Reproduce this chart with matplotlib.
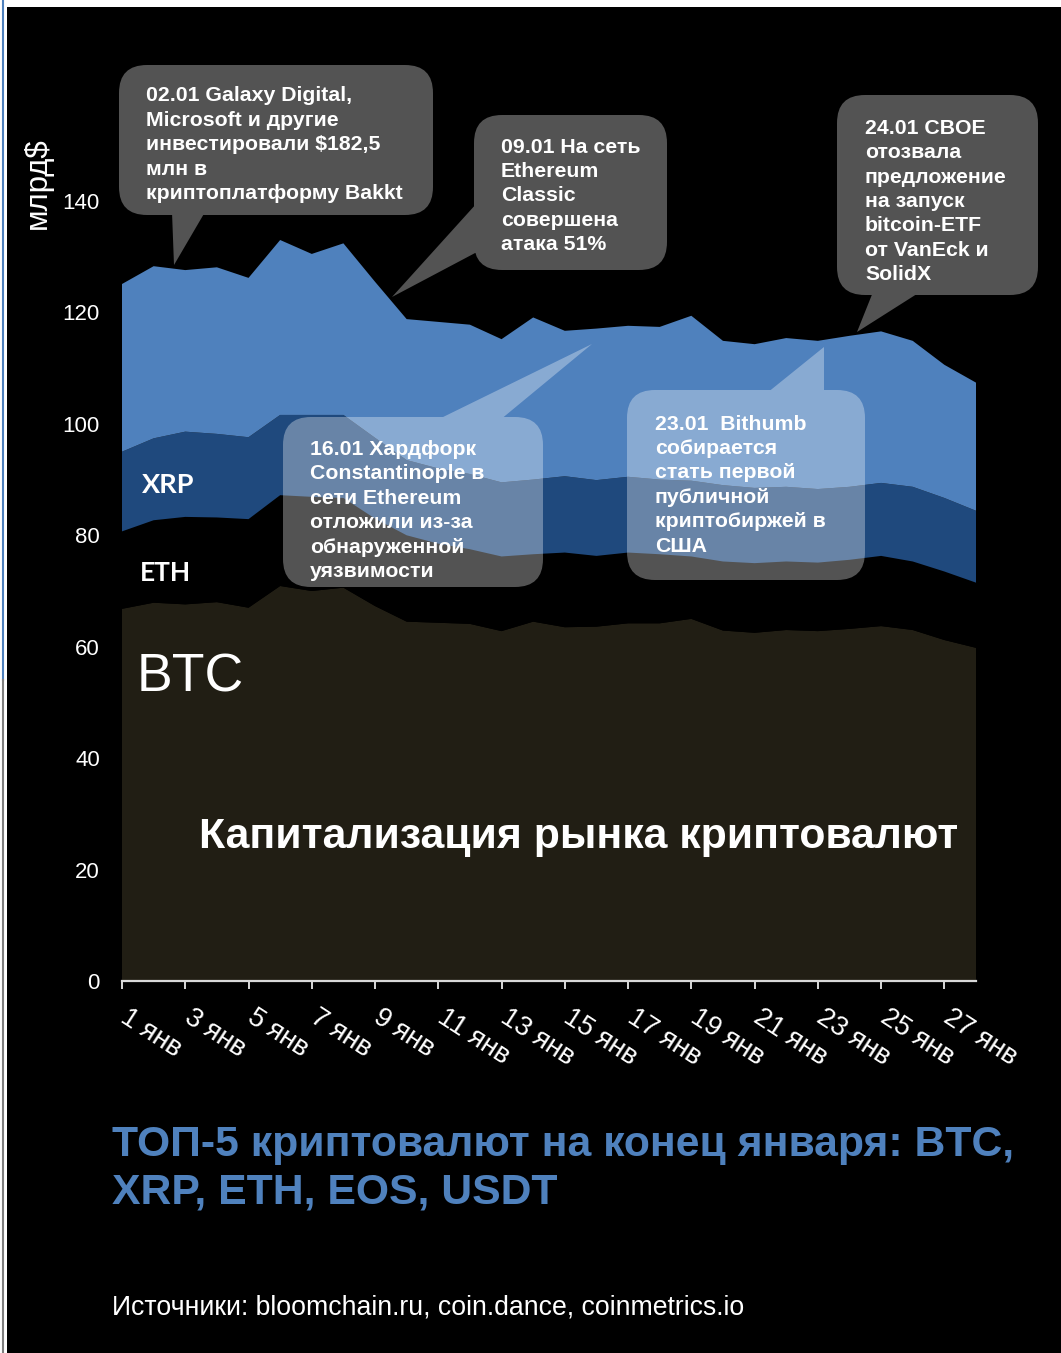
import numpy as np
import matplotlib
matplotlib.use("Agg")
import matplotlib.pyplot as plt
from matplotlib.patches import FancyBboxPatch, PathPatch, Rectangle
from matplotlib.path import Path
from matplotlib.transforms import ScaledTranslation

plt.rcParams['font.family'] = ['Liberation Sans', 'DejaVu Sans']

# ---------------- data (billion $) ----------------
days = list(range(1, 29))
tick_days = list(range(1, 28, 2))
tick_labels = [f"{d} янв" for d in tick_days]
btc = [66.8, 67.9, 67.6, 68.0, 67.0, 70.9, 70.0, 70.6, 67.3, 64.5, 64.3, 64.1, 62.8, 64.5,
       63.5, 63.6, 64.2, 64.2, 65.0, 62.9, 62.5, 63.0, 62.8, 63.2, 63.7, 63.0, 61.2, 59.8]
eth = [13.9, 14.8, 15.7, 15.2, 15.9, 16.3, 16.9, 16.1, 15.7, 15.5, 14.2, 13.4, 13.4, 12.1,
       13.4, 12.7, 12.7, 12.4, 11.2, 12.4, 12.5, 12.3, 12.3, 12.4, 12.6, 12.3, 12.3, 11.7]
xrp = [14.3, 14.7, 15.3, 15.0, 14.7, 14.4, 14.7, 14.9, 14.5, 13.5, 13.5, 13.5, 13.3, 13.4,
       13.7, 13.6, 13.6, 13.4, 13.6, 13.7, 13.5, 13.4, 13.2, 13.1, 13.1, 13.4, 13.2, 12.9]
others = [30.1, 30.9, 29.0, 29.9, 28.6, 31.4, 28.9, 30.8, 28.0, 25.3, 26.3, 26.8, 25.7, 29.1,
          26.1, 27.2, 27.1, 27.4, 29.6, 25.9, 25.8, 26.7, 26.6, 27.1, 27.2, 26.2, 23.9, 23.0]
yticks = [0, 20, 40, 60, 80, 100, 120, 140]
colors = ['#211e14', '#000000', '#1f497d', '#4f81bd']

W, H = 1061, 1353
fig = plt.figure(figsize=(W / 100, H / 100), dpi=100, facecolor='black')

# main axes: x from day1 (px 122) to day28 (px 976), y=0 at px 981, 140 at px 201
y_top_val = 150
px_per_unit = (981 - 201) / 140
top_px = 981 - y_top_val * px_per_unit
ax = fig.add_axes([122 / W, 1 - 981 / H, (976 - 122) / W, (981 - top_px) / H])
ax.set_facecolor('black')
ax.stackplot(days, btc, eth, xrp, others, colors=colors, linewidth=0, antialiased=True)
ax.set_xlim(1, 28)
ax.set_ylim(0, y_top_val)
for s in ['top', 'right', 'left']:
    ax.spines[s].set_visible(False)
ax.spines['bottom'].set_color('#d9d9d9')
ax.spines['bottom'].set_linewidth(1.6)
ax.set_xticks(tick_days)
ax.set_xticklabels(tick_labels, rotation=-33, ha='left', va='top',
                   rotation_mode='anchor', fontsize=19.5, color='white')
ax.tick_params(axis='x', length=6, width=1.4, color='#d9d9d9', pad=11)
for lbl in ax.get_xticklabels():
    lbl.set_transform(lbl.get_transform() + ScaledTranslation(6 / 72, 0, fig.dpi_scale_trans))
ax.set_yticks(yticks)
ax.set_yticklabels([str(v) for v in yticks], fontsize=16, color='white')
ax.tick_params(axis='y', length=0, pad=16)

# overlay axes in pixel coordinates
ov = fig.add_axes([0, 0, 1, 1], facecolor='none')
ov.set_xlim(0, W)
ov.set_ylim(H, 0)
ov.axis('off')

# frame strips
ov.add_patch(Rectangle((0, 0), W, 7, color='white', lw=0))
ov.add_patch(Rectangle((0, 0), 7, H, color='white', lw=0))
ov.plot([3, 3], [0, 680], color='#4f81bd', lw=1.5)
ov.plot([3, 3], [680, H], color='#7f7f7f', lw=1.5)


def signed_area(poly):
    x, y = poly[:, 0], poly[:, 1]
    return 0.5 * np.sum(x * np.roll(y, -1) - np.roll(x, -1) * y)


def bubble(x0, y0, x1, y1, tail, fc, alpha=1.0, r=28):
    box = FancyBboxPatch((x0, y0), x1 - x0, y1 - y0,
                         boxstyle=f"round,pad=0,rounding_size={r}")
    bp = box.get_path()
    poly = bp.to_polygons()[0]
    tri = np.array(tail, dtype=float)
    if np.sign(signed_area(tri)) != np.sign(signed_area(poly)):
        tri = tri[::-1]
    tp = Path(np.vstack([tri, tri[:1]]),
              [Path.MOVETO, Path.LINETO, Path.LINETO, Path.CLOSEPOLY])
    path = Path.make_compound_path(Path(poly), tp)
    ov.add_patch(PathPatch(path, facecolor=fc, edgecolor='none', alpha=alpha, lw=0))


def lines(x, baselines, texts, size=15.3, weight='bold', color='white'):
    for yb, t in zip(baselines, texts):
        ov.text(x, yb, t, fontsize=size, fontweight=weight, color=color,
                ha='left', va='baseline')


grey = '#535353'
# 02.01
bubble(119, 65, 433, 215, [(172, 212), (174, 265), (205, 212)], grey)
lines(146, [101, 126, 150, 175, 199],
      ["02.01 Galaxy Digital,", "Microsoft и другие", "инвестировали $182,5",
       "млн в", "криптоплатформу Bakkt"])
# 09.01
bubble(474, 115, 667, 270, [(477, 203), (392, 297), (477, 252)], grey)
lines(501, [153, 177, 201, 226, 250],
      ["09.01 На сеть", "Ethereum", "Classic", "совершена", "атака 51%"])
# 24.01
bubble(837, 95, 1038, 295, [(873, 292), (857, 332), (920, 292)], grey)
lines(865, [134, 158, 183, 207, 231, 256, 280],
      ["24.01 CBOE", "отозвала", "предложение", "на запуск", "bitcoin-ETF",
       "от VanEck и", "SolidX"])
# 16.01 translucent
bubble(283, 417, 543, 587, [(437, 420), (592, 344), (500, 420)], 'white', alpha=0.33)
lines(310, [455, 479, 504, 528, 553, 577],
      ["16.01 Хардфорк", "Constantinople в", "сети Ethereum", "отложили из-за",
       "обнаруженной", "уязвимости"])
# 23.01 translucent
bubble(627, 390, 865, 580, [(767, 393), (824, 347), (824, 393)], 'white', alpha=0.33)
lines(655, [430, 454, 478, 503, 527, 552],
      ["23.01  Bithumb", "собирается", "стать первой", "публичной",
       "криптобиржей в", "США"])

# series labels
ov.text(142, 485, "XRP", fontsize=19.5, fontweight='bold', color='white',
        ha='left', va='center', family=['Lato', 'DejaVu Sans'])
ov.text(140, 573, "ETH", fontsize=19, fontweight='bold', color='white',
        ha='left', va='center', family=['Lato', 'DejaVu Sans'])
ov.text(137, 677, "BTC", fontsize=38.5, color='white', ha='left', va='center')
ov.text(199, 837, "Капитализация рынка криптовалют", fontsize=30.8, fontweight='bold',
        color='white', ha='left', va='center')

# y label
ov.text(38, 183, "млрд$", rotation=90, fontsize=22.5, color='white', ha='center', va='center')

# title and sources
ov.text(112, 1145, "ТОП-5 криптовалют на конец января: BTC,", fontsize=30.8,
        fontweight='bold', color='#4f81bd', ha='left', va='center')
ov.text(112, 1193, "XRP, ETH, EOS, USDT", fontsize=30.8,
        fontweight='bold', color='#4f81bd', ha='left', va='center')
ov.text(112, 1307, "Источники: bloomchain.ru, coin.dance, coinmetrics.io", fontsize=19.2,
        color='white', ha='left', va='center')

fig.savefig("out.png", dpi=100, facecolor='black')
